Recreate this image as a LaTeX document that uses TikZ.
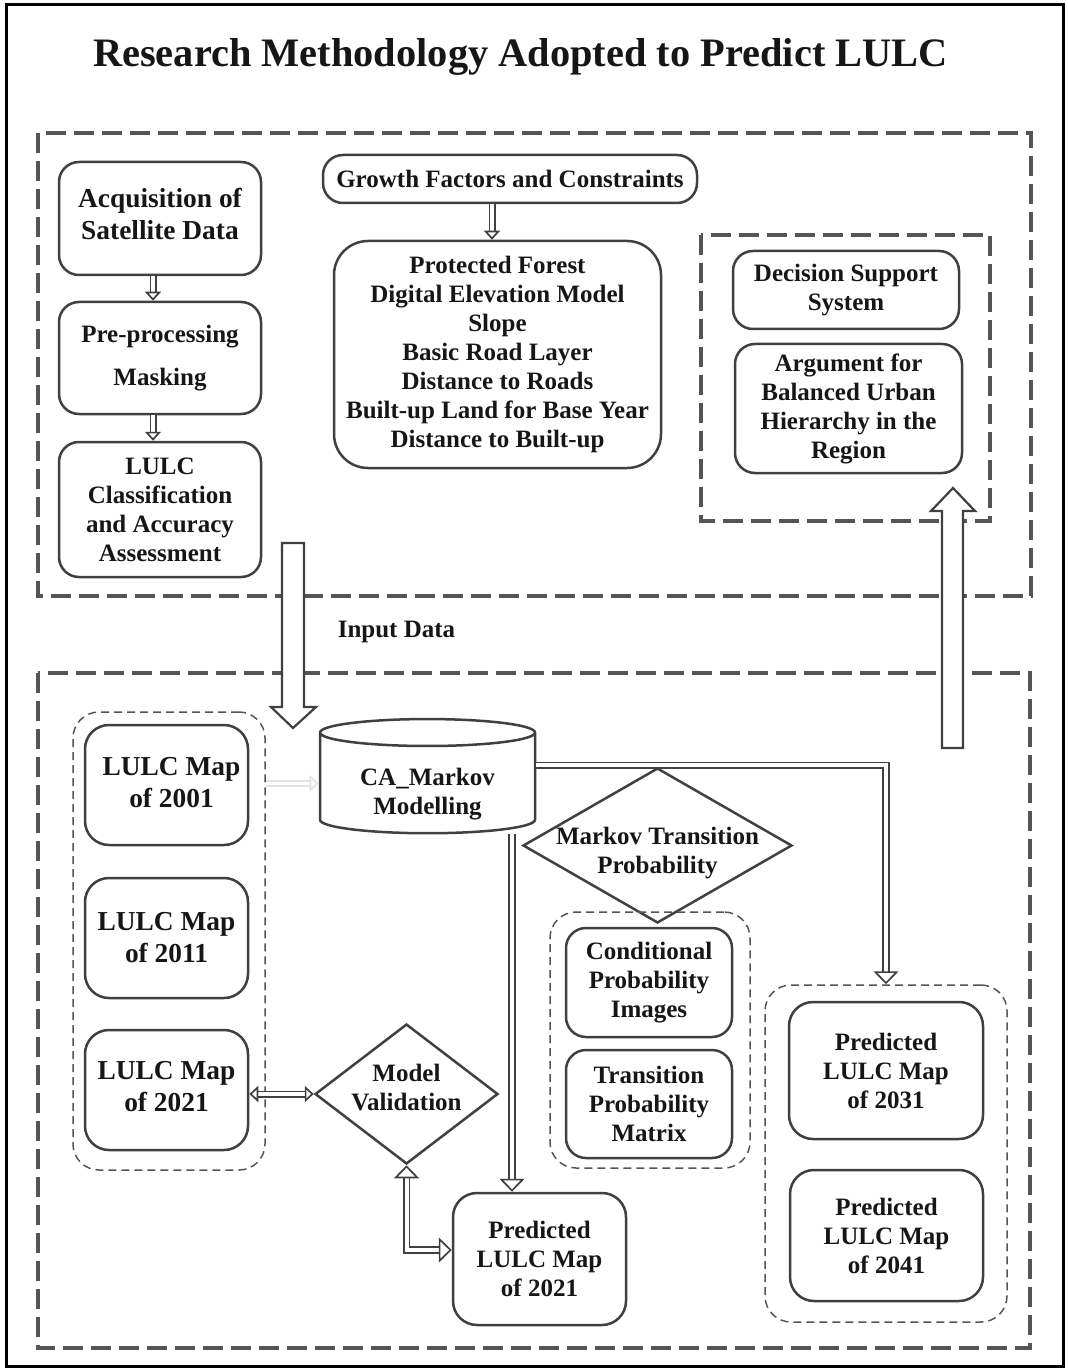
\documentclass[tikz,border=0pt]{standalone}
\usepackage{fontspec}
\setmainfont{Liberation Serif}
\usetikzlibrary{shapes, arrows.meta}
\definecolor{boxline}{HTML}{404040}
\definecolor{dashgray}{HTML}{555555}
\definecolor{faint}{HTML}{E2E2E2}
\definecolor{inkblack}{HTML}{161616}

\begin{document}
\begin{tikzpicture}[x=0.5pt, y=-0.5pt,
  every node/.style={text=inkblack, font=\bfseries\fontsize{12.5}{14.5}\selectfont, align=center, inner sep=0pt},
  box/.style={draw=boxline, line width=1.25pt, rounded corners=10pt},
  bigtext/.style={font=\bfseries\fontsize{13.7}{16}\selectfont},
  region/.style={draw=dashgray, line width=2pt, dash pattern=on 10pt off 4pt},
  group/.style={draw=dashgray, line width=0.75pt, dash pattern=on 4pt off 2.5pt, rounded corners=13pt},
  decision/.style={diamond, draw=boxline, line width=1.25pt},
  link/.style={draw=boxline, line width=0.85pt, double=white, double distance=1.8pt, >={Triangle[open, fill=white, length=4.5pt, width=8pt, line width=0.85pt]}, ->},
  flow/.style={draw=boxline, line width=0.85pt, double=white, double distance=2pt, >={Triangle[open, fill=white, length=6.5pt, width=12.5pt, line width=0.85pt]}, ->},
  blockarrow/.style={draw=boxline, line width=1.1pt, fill=white}]
  \useasboundingbox (0,0) rectangle (1068,1369);
  \draw[line width=1.5pt] (6,5) rectangle (1063,1366);
  \node[font=\bfseries\fontsize{20.2}{24}\selectfont] (title) at (520.5,57) {Research Methodology Adopted to Predict LULC};

  \draw[region] (38,133) rectangle (1031,596);
  \draw[region] (701,235) rectangle (990,521);
  \draw[region] (38,673) rectangle (1030,1348);

  \node[box, minimum width=101pt, minimum height=56.5pt, label={[bigtext, yshift=2.25pt]center:Acquisition of\\Satellite Data}] (acq) at (160,218.5) {};
  \node[box, minimum width=101pt, minimum height=56pt] (pre) at (160,358) {Pre-processing\\[7pt]Masking};
  \node[box, minimum width=101pt, minimum height=67.5pt] (cls) at (160,509.5) {LULC\\Classification\\and Accuracy\\Assessment};
  \node[box, minimum width=187pt, minimum height=24pt] (growth) at (510,179) {Growth Factors and Constraints};
  \node[box, rounded corners=17pt, minimum width=163.5pt, minimum height=113.5pt] (factors) at (497.5,354.5) {Protected Forest\\Digital Elevation Model\\Slope\\Basic Road Layer\\Distance to Roads\\Built-up Land for Base Year\\Distance to Built-up};
  \node[box, minimum width=113pt, minimum height=39pt] (dss) at (846,290) {Decision Support\\System};
  \node[box, minimum width=113.5pt, minimum height=64.5pt] (arg) at (848.5,408.5) {Argument for\\Balanced Urban\\Hierarchy in the\\Region};
  \node (input) at (396.5,632) {Input Data};

  \node[group, minimum width=96pt, minimum height=229pt] (mapgrp) at (169,941) {};
  \node[box, rounded corners=12pt, minimum width=81.5pt, minimum height=60pt, label={[bigtext, xshift=2.5pt, yshift=1pt]center:LULC Map\\of 2001}] (map01) at (166.5,785) {};
  \node[box, rounded corners=12pt, minimum width=81.5pt, minimum height=60pt, label={[bigtext]center:LULC Map\\of 2011}] (map11) at (166.5,938) {};
  \node[box, rounded corners=12pt, minimum width=81.5pt, minimum height=60pt, label={[bigtext, yshift=1.5pt]center:LULC Map\\of 2021}] (map21) at (166.5,1090) {};
  \node[cylinder, shape border rotate=90, aspect=0.2, draw=boxline, line width=1.25pt, minimum width=107.5pt, minimum height=56.5pt] (cam) at (427.5,783.5) {\rule{0pt}{19pt}CA\_Markov\\Modelling};
  \node[decision, minimum width=134.5pt, minimum height=77.5pt, label={[yshift=-3.75pt]center:Markov Transition\\Probability}] (mtp) at (657.5,845.5) {};
  \node[group, minimum width=100pt, minimum height=128pt] (condgrp) at (650,1040) {};
  \node[box, minimum width=83pt, minimum height=54.5pt] (cond) at (649,982.5) {Conditional\\Probability\\Images};
  \node[box, minimum width=83pt, minimum height=54pt] (tpm) at (649,1104) {Transition\\Probability\\Matrix};
  \node[decision, minimum width=91.5pt, minimum height=70pt, label={[yshift=3.25pt]center:Model\\Validation}] (mv) at (406.5,1094) {};
  \node[group, minimum width=121pt, minimum height=168.5pt] (predgrp) at (886,1153.5) {};
  \node[box, rounded corners=12pt, minimum width=97pt, minimum height=68.5pt] (p31) at (886,1070.5) {Predicted\\LULC Map\\of 2031};
  \node[box, rounded corners=12pt, minimum width=96.5pt, minimum height=65.5pt] (p41) at (886.5,1235.5) {Predicted\\LULC Map\\of 2041};
  \node[box, rounded corners=12pt, minimum width=86.5pt, minimum height=66pt] (p21) at (539.5,1259) {Predicted\\LULC Map\\of 2021};

  \draw[blockarrow] (282,543) -- (282,707) -- (271,707) -- (293,728) -- (316,707) -- (304,707) -- (304,543) -- cycle;
  \draw[blockarrow] (942,748) -- (942,511) -- (931,511) -- (953,488) -- (975,511) -- (963,511) -- (963,748) -- cycle;

  \draw[link] ([xshift=-3.5pt]acq.south) -- ([xshift=-3.5pt]pre.north);
  \draw[link] ([xshift=-3.5pt]pre.south) -- ([xshift=-3.5pt]cls.north);
  \draw[link] ([xshift=-9pt]growth.south) -- ([xshift=-2.75pt]factors.north);
  \draw[link, draw=faint] (mapgrp.east |- cam.west) -- (cam.west);
  \draw[flow] ([yshift=9pt]cam.east) -| (predgrp.north);
  \coordinate (p21in) at ([xshift=-13.75pt]p21.north);
  \draw[flow] (p21in |- cam.south) -- (p21in);
  \draw[link, <->] (mv.west -| map21.east) -- (mv.west);
  \draw[flow, <->] (mv.south) |- ([yshift=4.5pt]p21.west);
\end{tikzpicture}
\end{document}
